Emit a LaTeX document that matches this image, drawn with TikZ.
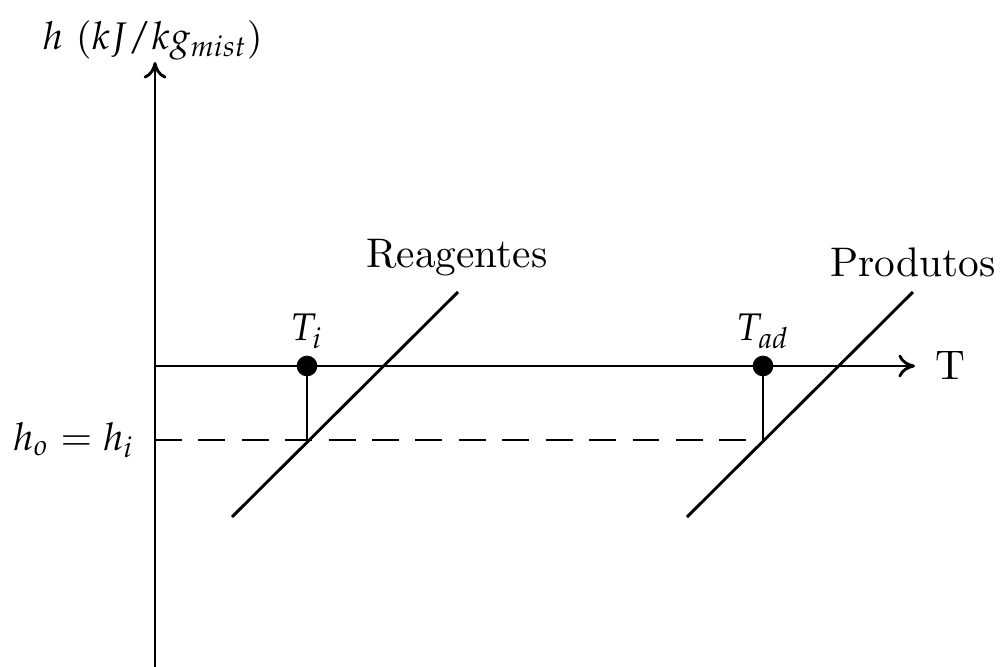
\documentclass[tikz,border=0pt]{standalone}
\usepackage{mathpazo}
\usepackage{amsmath,amssymb}
\usetikzlibrary{arrows.meta, positioning}

\tikzset{
  axisline/.style={line width=0.7pt, -{To[length=4pt,width=5.5pt]}},
  isoline/.style={line width=0.7pt},
  stateline/.style={line width=0.7pt},
  dot/.style={circle, fill=black, inner sep=0pt, minimum size=5pt},
  mathlabel/.style={font=\fontsize{9.3}{11}\selectfont},
}

\begin{document}
\begin{tikzpicture}[scale=0.85]

  \useasboundingbox (0,0) rectangle (10.03,6.67);

  % ===== eixos =====
  \coordinate (origin) at (1.55,0);
  \coordinate (htop) at (1.55,6.05);
  \coordinate (hzero) at (1.55,3.01);
  \coordinate (tend) at (9.15,3.01);
  \coordinate (hlevel) at (1.55,2.27);

  \draw[axisline] (origin) -- (htop);
  \draw[axisline] (hzero) -- (tend);
  \node[mathlabel, anchor=west, inner sep=0pt] (hlabel) at (0.42,6.27) {$h$ ($kJ/kg_{mist}$)};
  \node[right=0.05 of tend] (tlabel) {T};

  % ===== curvas de reagentes e produtos =====
  \coordinate (reaglow) at (2.32,1.50);
  \coordinate (reaghigh) at (4.58,3.75);
  \coordinate (prodlow) at (6.87,1.50);
  \coordinate (prodhigh) at (9.13,3.75);

  \draw[isoline] (reaglow) -- (reaghigh);
  \draw[isoline] (prodlow) -- (prodhigh);
  \node (reaglabel) at (4.57,4.09) {Reagentes};
  \node (prodlabel) at (9.13,4.05) {Produtos};

  % ===== estados =====
  \node[dot] (ti) at (3.07,3.01) {};
  \node[dot] (tad) at (7.63,3.01) {};
  \coordinate (tilow) at (3.07,2.27);
  \coordinate (tadlow) at (7.63,2.27);

  \node[mathlabel, above=-0.07 of ti] (tilabel) {$T_i$};
  \node[mathlabel, above=-0.07 of tad] (tadlabel) {$T_{ad}$};

  \draw[stateline] (ti.center) -- (tilow);
  \draw[stateline] (tad.center) -- (tadlow);
  \draw[line width=0.7pt, dash pattern=on 6.5pt off 4pt] (hlevel) -- (tadlow);
  \node[mathlabel, left=0.05 of hlevel] (hhlabel) {$h_o = h_i$};

\end{tikzpicture}
\end{document}
